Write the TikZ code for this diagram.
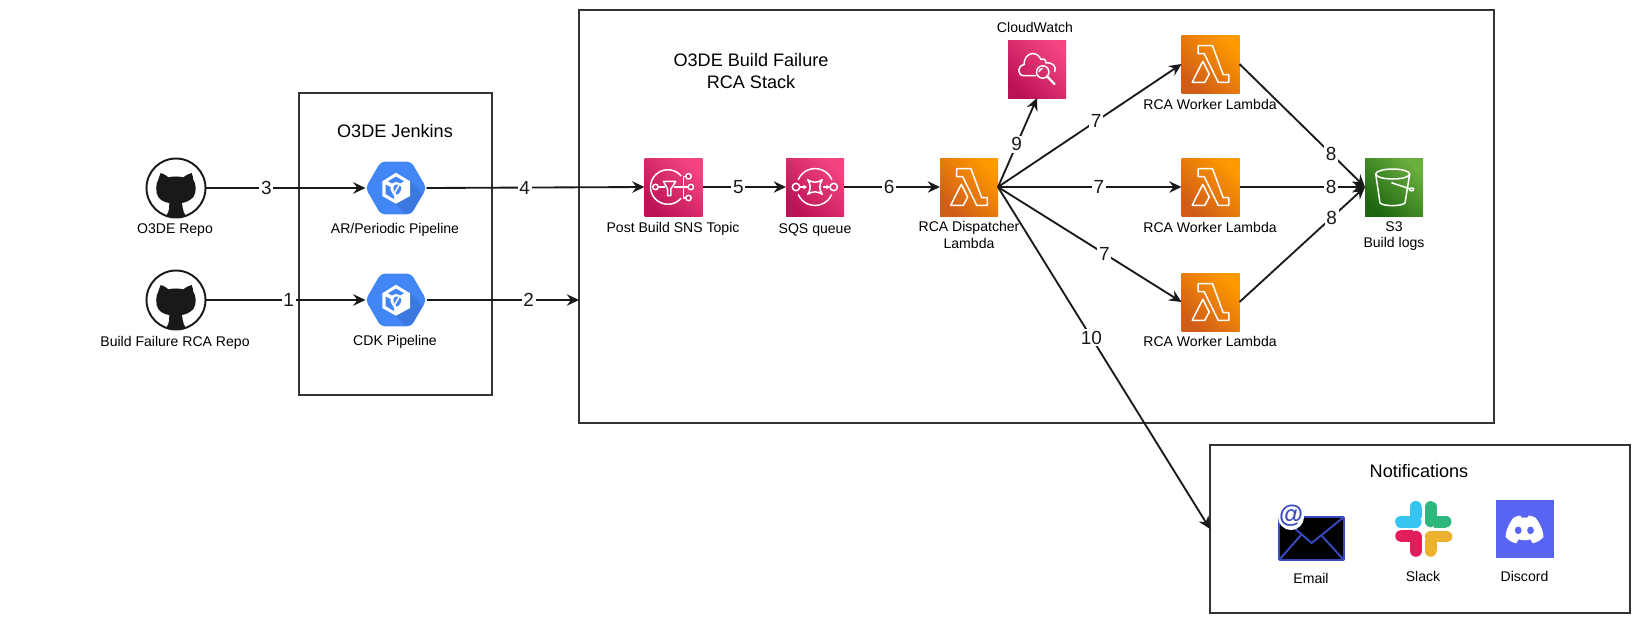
\documentclass[tikz,border=0pt]{standalone}
\usepackage{fontspec}
\setmainfont{Liberation Sans}
\usepackage{xcolor}
\usetikzlibrary{shapes,arrows.meta,positioning,calc}

\definecolor{pinklow}{HTML}{BC1356}
\definecolor{pinkhigh}{HTML}{F34482}
\definecolor{orangelow}{HTML}{D05C17}
\definecolor{orangehigh}{HTML}{FF9900}
\definecolor{greenlow}{HTML}{1B660F}
\definecolor{greenhigh}{HTML}{6CAE3E}
\definecolor{gcpblue}{HTML}{4285F4}
\definecolor{gcpshade}{HTML}{3B78DF}
\definecolor{mailblue}{HTML}{3949C0}
\definecolor{discordblue}{HTML}{5865F2}
\definecolor{linegrey}{HTML}{333333}
\definecolor{slackblue}{HTML}{36C5F0}
\definecolor{slackgreen}{HTML}{2EB67D}
\definecolor{slackred}{HTML}{E01E5A}
\definecolor{slackyellow}{HTML}{ECB22E}

\tikzset{
    groupbox/.style={draw=linegrey, line width=1.1pt, inner sep=0, outer sep=0},
    grouptitle/.style={font=\fontsize{10.3}{12.5}\selectfont, align=center},
    iconlabel/.style={font=\fontsize{8}{9.2}\selectfont, align=center, inner sep=0},
    numlabel/.style={font=\fontsize{10.8}{12}\selectfont, fill=white, inner sep=1pt},
    flow/.style={-{Stealth[length=7pt,width=6.5pt,inset=2.4pt]}, line width=1.05pt, black!90},
    awsbox/.style={minimum size=1.16cm, inner sep=0, outer sep=0},
    pinkbox/.style={awsbox, left color=pinklow, right color=pinkhigh, shading angle=135},
    orangebox/.style={awsbox, left color=orangelow, right color=orangehigh, shading angle=135},
    greenbox/.style={awsbox, left color=greenlow, right color=greenhigh, shading angle=135},
    gitcircle/.style={circle, draw=black!90, fill=white, line width=1.1pt, minimum size=1.18cm, inner sep=0, outer sep=0},
    gcphex/.style={regular polygon, regular polygon sides=6, fill=gcpblue,
        rounded corners=2.5pt, minimum size=1.22cm, inner sep=0, outer sep=0},
    glyph/.style={draw=white, line width=0.85pt, line join=round},
    % icons, drawn around their node centre
    lambdaicon/.pic={
        \draw[glyph] (-12.3,-18.3) -- (2,-18.3) -- (12.7,10.7) -- (18.3,10.7) -- (18.3,18.3) -- (7.7,18.3) -- (-6.3,-10.3) -- (-12.3,-10.3) -- cycle;
        \draw[glyph] (-18.3,18.3) -- (-7.7,-2.7) -- (-1.3,10) -- (-5.7,18.3) -- cycle;
    },
    snsicon/.pic={
        \draw[glyph] (7.6,-11.1) arc (-40:-320:17.3);
        \draw[glyph] (-10,-5.7) -- (2.3,-5.7) -- (-2.7,2) -- (-2.7,8.7) -- (-6,8.7) -- (-6,2) -- cycle;
        \draw[glyph] (-15.3,0) -- (-8.5,0);
        \draw[glyph] (0.7,0) -- (14.6,0);
        \draw[glyph] (12.3,-10.7) -- (10,-10.7) -- (10,11) -- (12.3,11);
        \foreach \cx/\cy in {-18/0, 15/-10.7, 17.3/0, 15/11} {
            \draw[glyph, fill=pinklow!70!pinkhigh] (\cx,\cy) circle (2.7);
        }
    },
    sqsicon/.pic={
        \draw[glyph] (-16.8,-7.3) arc (-157:-23:18.3);
        \draw[glyph] (16.8,7.3) arc (23:157:18.3);
        \draw[glyph] (-19,0) circle (3.7);
        \draw[glyph] (18.7,0) circle (3.7);
        \draw[glyph] (-7.3,-7.3) .. controls (-3,-4) and (3,-4) .. (7.3,-7.3) .. controls (4,-3) and (4,3) .. (7.3,7.3)
            .. controls (3,4) and (-3,4) .. (-7.3,7.3) .. controls (-4,3) and (-4,-3) .. (-7.3,-7.3) -- cycle;
        \draw[glyph, -{Stealth[length=2.2pt,width=2.6pt]}] (-15,0) -- (-8,0);
        \draw[glyph, -{Stealth[length=2.2pt,width=2.6pt]}] (8,0) -- (15,0);
    },
    watchicon/.pic={
        \draw[glyph] (-1,6.7) -- (-13,6.7) .. controls (-20,6.7) and (-20,-3.5) .. (-13,-4.3)
            .. controls (-13,-17) and (0,-19) .. (4,-9.5) .. controls (7,-11) and (9,-9) .. (9,-6)
            .. controls (16,-7) and (20,-2) .. (17.5,3);
        \draw[glyph] (5.7,3) circle (6.2);
        \draw[glyph] (5.7,-0.6) arc (-90:-180:3.6);
        \draw[glyph, line width=1.3pt, line cap=round] (10.2,7.5) -- (17.5,15);
    },
    bucketicon/.pic={
        \draw[glyph] (-1.3,-13) ellipse (17 and 5);
        \draw[glyph] (-18.3,-13) -- (-14,16) .. controls (-10,19.5) and (7,19.5) .. (11,16) -- (15.7,-13);
        \draw[glyph] (-1.7,-4) -- (15,1.5);
        \draw[glyph] (17.6,2.4) ellipse (2.2 and 1.4);
        \fill[white] (-1.7,-4) circle (1.1);
    },
    caticon/.pic={
        \fill[black!90] (-15.3,-15) .. controls (-12,-14.5) and (-10,-12.5) .. (-7.7,-10.7)
            .. controls (-3,-11.8) and (3,-11.8) .. (7.3,-10.7)
            .. controls (10,-12.5) and (12,-14.5) .. (15.7,-15)
            .. controls (17,-12) and (17,-10) .. (17.3,-8.3)
            .. controls (20.5,-4) and (20.5,5) .. (17.3,9)
            .. controls (14,13) and (9,14.5) .. (5.7,15)
            .. controls (7,18) and (6,22) .. (9.5,27.5)
            .. controls (4,29.8) and (-4,29.8) .. (-9.5,27.5)
            .. controls (-6,22) and (-7,18) .. (-6.7,15)
            .. controls (-10,14.5) and (-15,13) .. (-17.7,9)
            .. controls (-20.5,5) and (-20.5,-4) .. (-17.7,-8.3)
            .. controls (-17,-10) and (-17,-12) .. (-15.3,-15) -- cycle;
    },
    cubeicon/.pic={
        \fill[gcpshade] (14,-6.7) -- (27,6) -- (15,25) -- (9,25) -- (0,15.7) -- (14,8) -- cycle;
        \fill[white] (0,-15.3) -- (14,-6.7) -- (14,8) -- (0,15.7) -- (-13.7,8) -- (-13.7,-6.7) -- cycle;
        \fill[gcpblue] (0,-11.5) -- (8,-6.7) -- (4,-4.5) .. controls (1,-6.5) and (-1,-6.5) .. (-4,-4.5) -- (-8,-6.7) -- cycle;
        \fill[gcpblue] (-10.5,-3.5) -- (-5.5,-1) -- (-5.5,2) -- (-2,8) -- (-2,11) -- (-10.5,6) -- cycle;
        \fill[gcpblue] (0,-3.5) .. controls (4,-3.5) and (6,-1.5) .. (5,2) .. controls (4,5) and (2,7) .. (0.5,6.5)
            .. controls (-3.5,3) and (-3.5,-3) .. (0,-3.5) -- cycle;
        \draw[white, line width=0.9pt] (-1.5,5) -- (4,-4.5);
    },
    mailicon/.pic={
        \draw[mailblue, fill=black, line width=1.1pt, rounded corners=0.5pt] (1279,517) rectangle (1344,560);
        \draw[mailblue, line width=1.1pt] (1293,527) -- (1311.7,543) -- (1343,517.7);
        \draw[mailblue, line width=1.1pt] (1280,559) -- (1301,535);
        \draw[mailblue, line width=1.1pt] (1343,559) -- (1322,536);
        \fill[white] (1291,517) circle (13);
    },
    slackicon/.pic={
        % pills and drops
        \foreach \pillcol/\ax/\ay/\bx/\by/\dx/\dy/\tx/\ty in {
            slackblue/-22.2/-7.1/-7.1/-7.1/-7.2/-22.3/-7.2/-16.6,
            slackgreen/7.9/-22.2/7.9/-7.5/22.7/-7.3/17/-7.3,
            slackred/-7.2/7.5/-7.2/22/-22/7/-16.3/7,
            slackyellow/7.7/7.5/23.5/7.5/7.7/22/7.7/16.3} {
            \draw[\pillcol, line width=6.6pt, line cap=round] (\ax,\ay) -- (\bx,\by);
            \fill[\pillcol] (\dx,\dy) circle (5.8);
            \fill[\pillcol] (\tx-5.8,\ty-5.8) rectangle (\tx+5.8,\ty+5.8);
        }
    },
    discordicon/.pic={
        \fill[white] (-11,-11.3) .. controls (-8.5,-12.6) and (-6.5,-13.2) .. (-4.3,-13.5) -- (-2.7,-11.3)
            .. controls (-1,-11.6) and (1,-11.6) .. (2.7,-11.3) -- (4.3,-13.5)
            .. controls (6.5,-13.2) and (8.5,-12.6) .. (11,-11.3)
            .. controls (16,-5) and (19,3) .. (19,8)
            .. controls (16,11.5) and (12,13.5) .. (8.3,14.3) -- (5.7,10.3)
            .. controls (2,11.6) and (-2,11.6) .. (-5.7,10.3) -- (-8.3,14.3)
            .. controls (-12,13.5) and (-16,11.5) .. (-19,8)
            .. controls (-19,3) and (-16,-5) .. (-11,-11.3) -- cycle;
        \fill[discordblue] (-6.3,1.3) ellipse (3.4 and 3.8);
        \fill[discordblue] (6,1.3) ellipse (3.4 and 3.8);
    }
}

\begin{document}
\begin{tikzpicture}[x=0.02cm, y=-0.02cm]
    \useasboundingbox (0,0) rectangle (1650,633);

    % Group boxes
    \node[groupbox, minimum width=3.86cm, minimum height=6.04cm] (jenkins) at (395.5,244) {};
    \node[groupbox, minimum width=18.3cm, minimum height=8.26cm] (rcastack) at (1036.5,216.5) {};
    \node[groupbox, minimum width=8.4cm, minimum height=3.36cm] (notify) at (1420,529) {};
    \node[grouptitle] (jenkinstitle) at (395,131) {O3DE Jenkins};
    \node[grouptitle] (stacktitle) at (751,71) {O3DE Build Failure\\RCA Stack};
    \node[grouptitle] (notifytitle) at (1419,471) {Notifications};

    % Repos
    \node[gitcircle] (gitthree) at (176,188) {};
    \node[gitcircle] (gitone) at (176,300) {};
    \pic at (gitthree) {caticon};
    \pic at (gitone) {caticon};
    \node[iconlabel] (gitthreetext) at (175,230) {O3DE Repo};
    \node[iconlabel] (gitonetext) at (175,343) {Build Failure RCA Repo};

    % Pipelines
    \node[gcphex] (arpipe) at (396,188) {};
    \node[gcphex] (cdkpipe) at (396,300) {};
    \pic at (arpipe) {cubeicon};
    \pic at (cdkpipe) {cubeicon};
    \node[iconlabel] (arpipetext) at (395,230) {AR/Periodic Pipeline};
    \node[iconlabel] (cdkpipetext) at (395,342) {CDK Pipeline};

    % Stack
    \node[pinkbox] (snstopic) at (673.5,187) {};
    \pic at (snstopic) {snsicon};
    \node[iconlabel] (snstext) at (673,229) {Post Build SNS Topic};
    \node[pinkbox] (sqsqueue) at (815,187) {};
    \pic at (sqsqueue) {sqsicon};
    \node[iconlabel] (sqstext) at (815,230) {SQS queue};
    \node[orangebox] (dispatcher) at (969,187) {};
    \pic at (dispatcher) {lambdaicon};
    \node[iconlabel] (dispatchertext) at (969,235) {RCA Dispatcher\\Lambda};
    \node[pinkbox] (cloudwatch) at (1037,69) {};
    \pic at (cloudwatch) {watchicon};
    \node[iconlabel] (watchtext) at (1035,27) {CloudWatch};
    \foreach \n/\y/\ty in {one/64/104, two/187/227, three/302/341} {
        \node[orangebox] (worker\n) at (1210.5,\y) {};
        \pic at (worker\n) {lambdaicon};
        \node[iconlabel] (worker\n text) at (1210,\ty) {RCA Worker Lambda};
    }
    \node[greenbox] (buildlogs) at (1394,187) {};
    \pic at (buildlogs) {bucketicon};
    \node[iconlabel] (logstext) at (1394,236) {S3\\Build logs};

    % Notifications
    \pic at (0,0) {mailicon};
    \node[font=\fontsize{14}{15}\selectfont\bfseries, text=mailblue, inner sep=0] (mailat) at (1291,516) {@};
    \node[iconlabel] (mailtext) at (1311,578) {Email};
    \node[minimum size=1.14cm, inner sep=0] (slack) at (1423,529) {};
    \pic at (slack) {slackicon};
    \node[iconlabel] (slacktext) at (1423,576) {Slack};
    \node[awsbox, fill=discordblue] (discord) at (1524.5,529) {};
    \pic at (discord) {discordicon};
    \node[iconlabel] (discordtext) at (1524.5,576) {Discord};

    \coordinate (stackin) at (rcastack.west |- cdkpipe.east);

    % Flows
    \draw[flow] (gitone.east) -- node[numlabel, pos=.52] (labone) {1} (cdkpipe.west);
    \draw[flow] (cdkpipe.east) -- node[numlabel, pos=.67] (labtwo) {2} (stackin);
    \draw[flow] (gitthree.east) -- node[numlabel, pos=.38] (labthree) {3} (arpipe.west);
    \draw[flow] (arpipe.east) -- node[numlabel, pos=.45] (labfour) {4} (snstopic.west);
    \draw[flow] (snstopic.east) -- node[numlabel, pos=.43] (labfive) {5} (sqsqueue.west);
    \draw[flow] (sqsqueue.east) -- node[numlabel, pos=.47] (labsix) {6} (dispatcher.west);
    \draw[flow] (dispatcher.east) -- node[numlabel, pos=.535] (labseva) {7} (workerone.west);
    \draw[flow] (dispatcher.east) -- node[numlabel, pos=.55] (labsevb) {7} (workertwo.west);
    \draw[flow] (dispatcher.east) -- node[numlabel, pos=.58] (labsevc) {7} (workerthree.west);
    \draw[flow] (workerone.east) -- node[numlabel, pos=.73] (labeita) {8} (buildlogs.west);
    \draw[flow] (workertwo.east) -- node[numlabel, pos=.73] (labeitb) {8} (buildlogs.west);
    \draw[flow] (workerthree.east) -- node[numlabel, pos=.735] (labeitc) {8} (buildlogs.west);
    \draw[flow] (dispatcher.east) -- node[numlabel, pos=.48] (labnine) {9} (cloudwatch.south);
    \draw[flow] (dispatcher.east) -- node[numlabel, pos=.44] (labten) {10} (notify.west);
\end{tikzpicture}
\end{document}
